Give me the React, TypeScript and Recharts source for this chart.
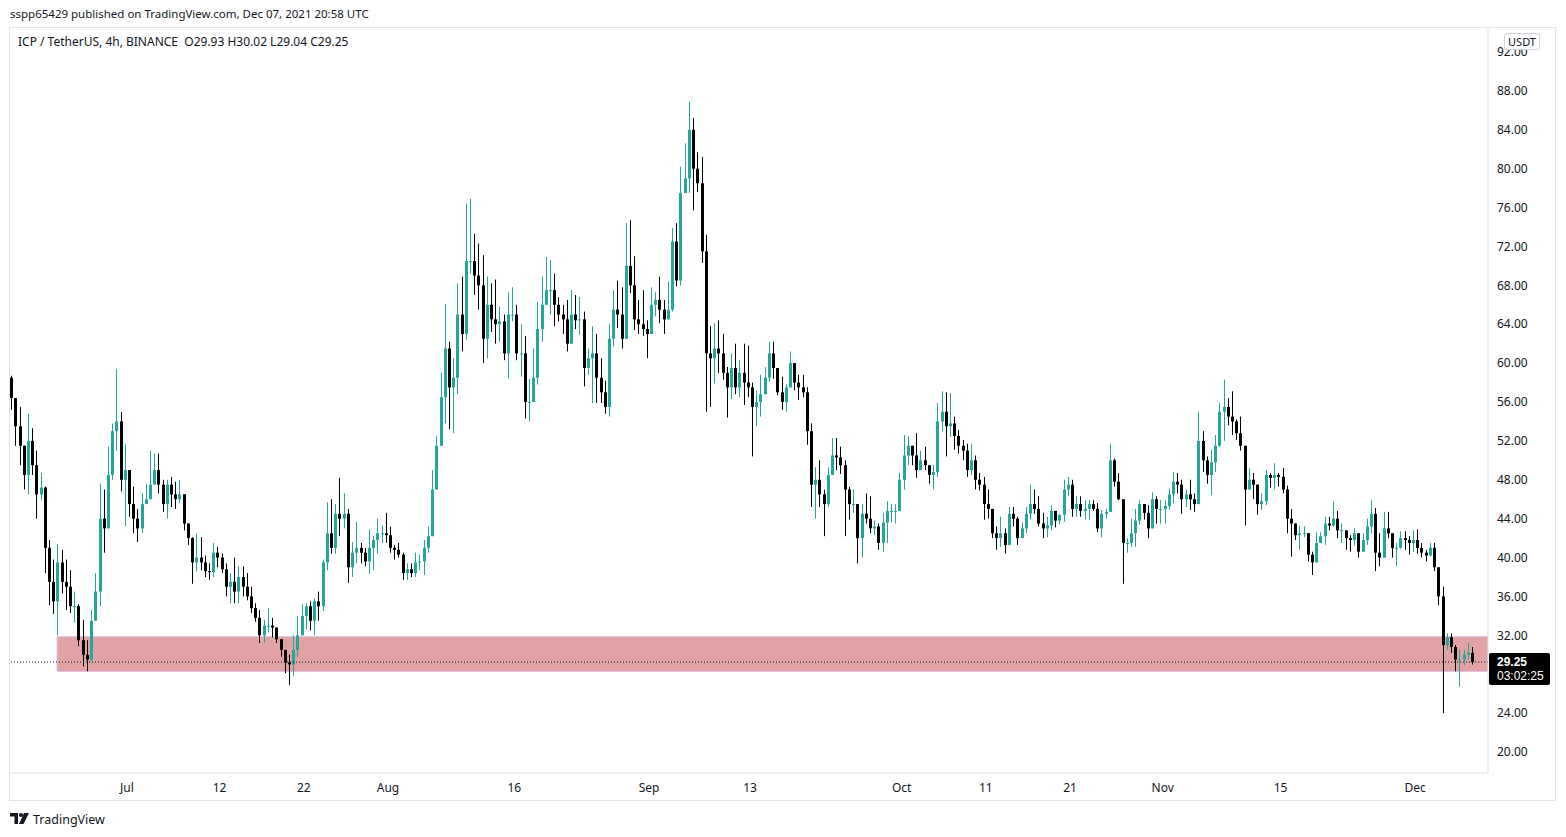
import React from "react";
import {
  ComposedChart,
  Bar,
  XAxis,
  YAxis,
  ReferenceArea,
  ReferenceLine,
} from "recharts";

const firstOpen = 58.5;

const highs = [
  58.7, 56.0, 55.5, 51.5, 54.8, 53.3, 51.0, 48.7, 47.3, 41.8,
  39.8, 41.4, 40.8, 39.8, 38.7, 36.5, 35.2, 33.6, 31.5, 34.6,
  38.4, 47.6, 47.0, 51.4, 53.8, 59.4, 55.0, 51.7, 48.6, 47.3,
  45.0, 46.6, 47.6, 51.0, 50.7, 50.7, 48.0, 48.0, 48.3, 47.8,
  48.0, 46.3, 43.5, 42.1, 42.5, 42.1, 40.2, 39.4, 41.5, 41.1,
  40.4, 39.4, 38.4, 40.0, 39.1, 39.1, 38.4, 37.0, 35.3, 34.6,
  33.6, 34.8, 33.8, 32.7, 31.5, 30.5, 30.0, 32.0, 34.0, 35.2,
  35.3, 35.5, 35.8, 36.5, 39.8, 45.7, 46.0, 45.5, 48.2, 46.6,
  45.0, 41.6, 43.7, 41.5, 41.0, 42.9, 42.2, 44.0, 43.3, 44.6,
  43.2, 41.3, 41.5, 40.5, 39.4, 39.4, 40.5, 40.3, 41.8, 43.2,
  49.0, 52.5, 59.0, 66.1, 62.2, 60.5, 68.2, 68.9, 76.4, 76.9,
  73.3, 72.3, 71.1, 68.9, 68.2, 68.6, 65.8, 65.0, 67.3, 67.8,
  66.0, 64.0, 62.8, 58.4, 61.5, 66.3, 68.9, 70.9, 70.6, 69.2,
  66.8, 66.0, 66.5, 67.5, 67.0, 66.8, 65.3, 61.5, 63.8, 63.0,
  60.5, 58.2, 64.0, 67.5, 68.5, 67.8, 74.4, 74.7, 71.0, 66.5,
  67.5, 64.4, 67.8, 67.3, 68.9, 66.5, 68.4, 73.9, 74.4, 80.2,
  82.6, 86.9, 85.2, 81.7, 81.2, 73.2, 63.8, 64.1, 64.4, 63.0,
  59.6, 61.0, 62.0, 60.3, 62.0, 61.8, 58.0, 57.2, 58.8, 59.6,
  62.2, 62.2, 58.9, 58.6, 57.8, 61.2, 59.5, 58.8, 58.8, 57.5,
  53.8, 49.3, 50.0, 47.0, 49.3, 52.3, 52.3, 51.4, 50.0, 47.3,
  47.0, 45.5, 45.5, 46.6, 46.3, 43.8, 43.5, 44.6, 45.8, 45.5,
  45.5, 48.7, 52.6, 52.5, 51.4, 52.8, 51.0, 51.4, 49.4, 49.5,
  55.9, 57.1, 57.0, 56.9, 54.5, 53.1, 52.1, 51.7, 51.7, 50.5,
  48.7, 48.3, 47.0, 44.7, 43.2, 44.2, 43.0, 45.2, 45.2, 44.2,
  43.6, 45.2, 47.5, 47.0, 46.3, 44.6, 44.2, 45.4, 44.5, 44.5,
  48.0, 48.3, 48.0, 46.3, 46.3, 45.9, 45.9, 45.9, 45.6, 44.9,
  45.0, 51.7, 50.2, 48.7, 46.0, 42.0, 44.0, 45.0, 45.9, 45.4,
  45.4, 46.7, 46.3, 45.9, 45.9, 47.1, 48.8, 48.7, 48.0, 47.0,
  48.0, 46.6, 55.0, 53.0, 50.4, 51.1, 52.6, 55.9, 58.3, 56.4,
  57.1, 54.2, 54.5, 51.1, 49.2, 48.7, 47.0, 46.6, 49.0, 48.7,
  49.7, 48.7, 49.2, 47.4, 45.0, 43.5, 43.3, 43.2, 42.1, 40.6,
  42.6, 42.6, 44.2, 44.2, 45.8, 44.8, 43.5, 42.6, 42.3, 43.0,
  41.8, 42.5, 44.0, 45.9, 45.1, 42.5, 44.7, 44.7, 42.5, 41.5,
  42.7, 42.7, 42.2, 42.8, 42.9, 41.5, 40.8, 41.5, 41.5, 38.8,
  37.0, 32.2, 32.2, 31.0, 30.5, 30.5, 31.2, 30.8,
];

const lows = [
  55.2, 51.5, 49.5, 47.0, 46.5, 48.5, 44.0, 45.9, 38.4, 35.1,
  34.2, 32.0, 36.3, 34.6, 34.3, 33.3, 30.9, 28.8, 28.3, 29.3,
  34.2, 35.0, 40.5, 43.2, 48.0, 51.0, 46.8, 43.2, 44.2, 42.5,
  41.6, 42.5, 45.5, 46.5, 47.6, 46.6, 44.7, 44.0, 45.2, 45.0,
  45.6, 42.8, 41.3, 37.3, 38.6, 38.7, 38.0, 37.7, 38.0, 39.0,
  38.4, 36.0, 35.3, 35.3, 35.3, 36.0, 35.6, 34.3, 33.4, 31.2,
  31.2, 32.3, 31.8, 31.2, 29.8, 28.1, 26.9, 27.8, 29.8, 32.2,
  32.6, 32.5, 32.0, 33.5, 34.5, 38.7, 40.4, 40.4, 42.2, 43.0,
  37.4, 38.0, 39.4, 39.4, 39.1, 38.3, 38.7, 40.4, 41.5, 41.5,
  40.5, 39.8, 40.0, 37.7, 37.7, 38.0, 38.0, 38.7, 38.2, 40.5,
  42.4, 47.6, 51.5, 53.8, 53.2, 52.8, 56.8, 61.2, 62.4, 69.2,
  67.0, 65.5, 60.0, 60.5, 63.2, 62.0, 62.2, 60.3, 58.4, 64.3,
  60.3, 58.6, 54.3, 54.0, 56.4, 57.8, 62.2, 66.0, 65.0, 63.8,
  64.3, 63.0, 61.2, 62.5, 63.5, 62.9, 57.6, 58.8, 55.9, 55.9,
  55.9, 54.8, 54.5, 61.7, 63.6, 61.5, 63.0, 67.2, 63.4, 63.0,
  62.8, 60.5, 63.8, 64.8, 64.1, 63.0, 64.5, 65.3, 67.9, 68.0,
  78.0, 77.5, 75.7, 77.6, 70.3, 55.0, 55.5, 57.9, 59.0, 58.3,
  54.4, 56.3, 56.8, 56.5, 55.7, 56.5, 50.4, 53.5, 54.5, 56.9,
  58.1, 58.4, 56.7, 55.2, 55.0, 57.8, 57.2, 56.2, 56.5, 51.6,
  45.2, 44.0, 45.2, 42.2, 45.2, 48.7, 49.0, 48.6, 42.2, 43.9,
  44.6, 39.4, 40.0, 43.5, 42.5, 42.3, 40.8, 40.6, 41.5, 43.6,
  43.5, 44.9, 47.0, 49.5, 49.5, 48.2, 49.0, 49.0, 47.6, 47.0,
  48.3, 53.0, 50.4, 52.4, 51.1, 50.7, 50.0, 48.3, 48.5, 47.0,
  46.9, 43.9, 44.0, 42.0, 40.8, 41.1, 40.4, 41.5, 43.2, 41.3,
  42.2, 42.5, 43.9, 44.5, 43.2, 42.0, 42.1, 42.8, 43.1, 43.4,
  43.7, 46.3, 44.2, 44.2, 44.2, 43.9, 43.9, 44.8, 42.6, 42.1,
  44.0, 44.9, 47.3, 45.9, 37.3, 40.5, 41.1, 41.1, 43.4, 43.9,
  42.0, 43.0, 43.5, 43.5, 43.5, 44.9, 45.6, 46.6, 44.5, 45.2,
  44.9, 44.7, 45.5, 48.8, 47.6, 46.4, 48.8, 51.4, 52.0, 53.6,
  52.6, 52.1, 51.0, 43.3, 47.0, 46.0, 44.4, 44.9, 45.4, 47.2,
  47.0, 47.3, 46.6, 42.5, 40.1, 41.8, 40.8, 42.1, 39.6, 38.2,
  39.5, 41.5, 41.3, 42.8, 43.2, 42.0, 41.5, 40.8, 40.6, 41.2,
  40.0, 40.8, 41.3, 42.5, 38.6, 39.1, 41.2, 42.0, 40.0, 39.1,
  40.9, 40.8, 40.3, 40.6, 40.4, 40.0, 39.6, 40.1, 38.6, 35.1,
  24.0, 30.5, 30.2, 28.3, 26.7, 28.9, 29.5, 29.0,
];

const closes = [
  56.4, 53.5, 51.5, 48.5, 52.0, 49.5, 46.5, 47.2, 41.0, 37.5,
  35.5, 39.5, 37.5, 37.0, 35.0, 35.0, 31.5, 30.0, 29.5, 33.5,
  36.5, 44.0, 43.0, 48.5, 53.0, 54.0, 48.0, 49.0, 45.5, 44.0,
  43.0, 45.5, 46.0, 47.5, 49.0, 47.5, 45.5, 47.5, 46.5, 46.0,
  46.5, 43.5, 42.0, 39.5, 40.0, 39.5, 38.6, 38.5, 40.5, 40.0,
  38.8, 37.0, 37.5, 36.5, 38.0, 37.0, 36.0, 34.8, 33.8, 32.0,
  33.0, 33.0, 32.8, 31.6, 30.5, 29.2, 29.0, 30.5, 32.0, 34.0,
  35.0, 33.5, 35.5, 35.0, 39.5, 42.5, 41.0, 44.5, 44.0, 44.5,
  39.0, 40.5, 41.0, 40.5, 39.6, 41.0, 41.8, 42.5, 42.5, 42.3,
  41.0, 40.8, 40.3, 38.4, 38.8, 38.4, 39.5, 39.6, 41.0, 42.2,
  47.0, 51.5, 56.5, 61.5, 57.5, 58.5, 65.0, 63.0, 70.5, 70.5,
  69.0, 68.0, 62.5, 66.0, 64.5, 64.0, 64.3, 61.0, 65.0, 65.0,
  61.0, 61.0, 56.0, 56.0, 58.5, 63.5, 66.0, 67.5, 67.5, 66.0,
  65.0, 64.5, 62.0, 65.0, 64.4, 64.5, 59.5, 60.5, 61.0, 58.5,
  57.0, 55.5, 62.5, 65.5, 65.0, 62.5, 70.0, 68.0, 64.5, 64.0,
  63.5, 63.0, 66.0, 66.5, 65.5, 64.5, 65.5, 72.5, 68.5, 77.5,
  79.0, 84.0, 80.0, 78.5, 71.5, 61.0, 60.5, 61.5, 61.0, 59.0,
  57.5, 59.5, 57.5, 59.0, 58.0, 57.5, 55.5, 56.0, 56.8, 58.5,
  61.0, 59.5, 57.0, 56.0, 57.5, 60.0, 58.0, 57.5, 57.0, 53.0,
  47.5, 48.0, 46.5, 45.5, 48.5, 50.5, 50.3, 49.5, 47.0, 45.5,
  45.5, 42.0, 44.5, 44.0, 43.0, 43.2, 41.5, 43.6, 44.8, 44.8,
  44.8, 48.0, 50.5, 51.5, 50.5, 49.0, 50.0, 49.5, 48.5, 48.8,
  54.0, 55.0, 53.5, 53.8, 52.5, 51.5, 51.0, 49.0, 50.0, 48.0,
  47.5, 45.5, 45.0, 42.5, 42.0, 42.5, 41.3, 44.5, 44.0, 42.0,
  43.0, 44.5, 45.5, 45.0, 43.5, 43.0, 43.3, 44.8, 43.8, 44.4,
  47.0, 47.5, 45.0, 45.5, 44.8, 45.0, 45.5, 45.0, 43.0, 44.5,
  44.7, 50.0, 47.8, 46.0, 41.5, 41.5, 42.5, 43.8, 45.5, 44.6,
  43.0, 46.0, 45.0, 45.0, 45.3, 46.5, 47.8, 47.5, 46.0, 46.5,
  46.0, 45.5, 52.0, 50.0, 48.5, 49.8, 51.5, 55.0, 55.5, 54.5,
  54.0, 52.8, 51.5, 47.0, 48.0, 47.5, 45.5, 45.8, 48.5, 48.2,
  48.5, 48.3, 47.0, 44.0, 43.5, 42.3, 42.5, 42.5, 40.3, 39.5,
  41.5, 42.2, 43.5, 43.3, 44.0, 42.8, 42.8, 42.0, 41.8, 42.5,
  40.6, 41.8, 43.2, 44.5, 40.5, 40.0, 43.0, 42.5, 41.0, 41.0,
  42.0, 41.8, 41.5, 41.8, 41.0, 40.5, 40.2, 41.0, 39.0, 36.0,
  31.0, 31.8, 30.8, 29.5, 29.5, 30.0, 30.2, 29.25,
];

// time axis: positions are in candle-index units
const dateTicks = [27.5, 49.5, 69.5, 89.5, 119.5, 151.5, 175.5, 211.5, 231.5, 251.5, 273.5, 301.5, 333.5];
const dateLabels = ["Jul", "12", "22", "Aug", "16", "Sep", "13", "Oct", "11", "21", "Nov", "15", "Dec"];
// 28.00 sits behind the last-price label in the snapshot, so it is not drawn
const priceTicks = [20, 24, 32, 36, 40, 44, 48, 52, 56, 60, 64, 68, 72, 76, 80, 84, 88, 92];

const zoneLow = 28.3;
const zoneHigh = 31.85;
const zoneStart = 10.9;
const lastPrice = 29.25;
const countdown = "03:02:25";

const X_DOMAIN: [number, number] = [-0.285, 350.78];
const Y_DOMAIN: [number, number] = [17.84, 94.47];

const UP = "#26a69a";
const DOWN = "#000000";
const BORDER = "#e0e3eb";
const TEXT = "#131722";
const FONT = "'Noto Sans', 'DejaVu Sans', sans-serif";
const TIGHT = "'Liberation Sans', Arial, sans-serif";

const candles = closes.map((close, i) => {
  const open = i === 0 ? firstOpen : closes[i - 1];
  const high = Math.max(highs[i], open, close);
  const low = Math.min(lows[i], open, close);
  return { i, open, close, high, low, range: [low, high] };
});

function Candle(props: any) {
  const { x, y, width, height, payload } = props;
  if (!payload || x == null || y == null) return null;
  const { open, close, high, low } = payload;
  const color = close >= open ? UP : DOWN;
  const top = Math.min(y, y + height);
  const h = Math.abs(height);
  const k = high === low ? 0 : h / (high - low);
  const cx = Math.round(x + width / 2) + 0.5;
  const bodyTop = top + (high - Math.max(open, close)) * k;
  const bodyH = Math.max(1, Math.abs(open - close) * k);
  return (
    <g>
      <line x1={cx} x2={cx} y1={top} y2={top + h} stroke={color} strokeWidth={1} />
      <rect x={cx - 1.5} y={bodyTop} width={3} height={bodyH} fill={color} />
    </g>
  );
}

function TvLogo() {
  return (
    <svg width={20} height={12} viewBox="0 0 20 12" style={{ position: "absolute", left: 10, top: 813 }}>
      <path d="M0 0 H8 V11 H4.5 V3.5 H0 Z" fill={TEXT} />
      <circle cx={11} cy={2} r={2} fill={TEXT} />
      <path d="M14 0 H19 L13.5 11 H9 Z" fill={TEXT} />
    </svg>
  );
}

export default function App() {
  return (
    <div
      style={{
        position: "absolute",
        left: 0,
        top: 0,
        width: 1566,
        height: 837,
        background: "#fff",
        fontFamily: FONT,
        color: TEXT,
      }}
    >
      <div style={{ position: "absolute", left: 10, top: 6, fontSize: 11.5 }}>
        sspp65429 published on TradingView.com, Dec 07, 2021 20:58 UTC
      </div>

      {/* pane frame */}
      <div
        style={{
          position: "absolute",
          left: 9,
          top: 27,
          width: 1547,
          height: 774,
          border: `1px solid ${BORDER}`,
          boxSizing: "border-box",
        }}
      />

      <div style={{ position: "absolute", left: 10, top: 28 }}>
        <ComposedChart
          width={1546}
          height={773}
          data={candles}
          margin={{ top: 0, right: 0, bottom: 0, left: 0 }}
        >
          <XAxis
            type="number"
            dataKey="i"
            domain={X_DOMAIN}
            allowDataOverflow
            ticks={dateTicks}
            interval={0}
            tickFormatter={(v: number) => dateLabels[dateTicks.indexOf(v)] ?? ""}
            tick={{ fontSize: 12, fill: TEXT, fontFamily: FONT }}
            tickLine={false}
            tickMargin={4}
            axisLine={{ stroke: BORDER }}
            height={28}
          />
          <YAxis
            orientation="right"
            type="number"
            domain={Y_DOMAIN}
            allowDataOverflow
            ticks={priceTicks}
            interval={0}
            tickFormatter={(v: number) => v.toFixed(2)}
            tick={{ fontSize: 12, fill: TEXT, fontFamily: FONT }}
            tickLine={false}
            tickMargin={3}
            axisLine={{ stroke: BORDER }}
            width={68}
          />
          <ReferenceArea
            x1={zoneStart}
            x2={X_DOMAIN[1]}
            y1={zoneLow}
            y2={zoneHigh}
            fill="#e0a2a2"
            fillOpacity={1}
            stroke="#dcb6dc"
            strokeWidth={1}
            ifOverflow="hidden"
          />
          <ReferenceLine y={lastPrice} stroke={TEXT} strokeDasharray="1 2" strokeWidth={1} />
          <Bar
            dataKey="range"
            barSize={4}
            shape={<Candle />}
            isAnimationActive={false}
          />
        </ComposedChart>
      </div>

      <div style={{ position: "absolute", left: 18, top: 33, fontSize: 12 }}>
        ICP / TetherUS, 4h, BINANCE&nbsp; O29.93 H30.02 L29.04 C29.25
      </div>

      {/* currency badge over the top tick */}
      <div
        style={{
          position: "absolute",
          left: 1504,
          top: 33,
          width: 36,
          height: 17,
          border: "1px solid #d1d4dc",
          borderRadius: 3,
          background: "#fff",
          boxSizing: "border-box",
          fontSize: 11,
          lineHeight: "15px",
          textAlign: "center",
        }}
      >
        USDT
      </div>

      {/* last price label */}
      <div
        style={{
          position: "absolute",
          left: 1489,
          top: 653,
          width: 61,
          height: 32,
          background: "#000",
          borderRadius: 2,
        }}
      />
      <div
        style={{
          position: "absolute",
          left: 1497,
          top: 655,
          fontFamily: TIGHT,
          fontSize: 12,
          lineHeight: "14px",
          fontWeight: 700,
          color: "#fff",
        }}
      >
        {lastPrice.toFixed(2)}
      </div>
      <div
        style={{
          position: "absolute",
          left: 1497,
          top: 669,
          fontFamily: TIGHT,
          fontSize: 12,
          lineHeight: "14px",
          color: "#fff",
        }}
      >
        {countdown}
      </div>

      <TvLogo />
      <div style={{ position: "absolute", left: 33, top: 811, fontSize: 12.5 }}>TradingView</div>
    </div>
  );
}
